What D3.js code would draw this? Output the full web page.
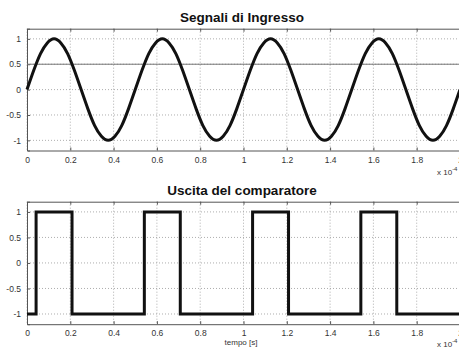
<!DOCTYPE html>
<html>
<head>
<meta charset="utf-8">
<script src="https://cdn.jsdelivr.net/npm/d3@7"></script>
<style>
  body { margin: 0; background: #fff; }
  svg { display: block; font-family: "Liberation Sans", Arial, sans-serif; }
  .tick text { fill: #333; font-size: 8.5px; }
  .title { font-weight: bold; font-size: 13.5px; fill: #111; }
</style>
</head>
<body>
<div id="chart"></div>
<script>
const w = 459,
      h = 349;

// time axis (units of 1e-4 s)
const xTicks = [0, 0.2, 0.4, 0.6, 0.8, 1, 1.2, 1.4, 1.6, 1.8, 2];
const yTicks = [-1, -0.5, 0, 0.5, 1];
const threshold = 0.5;

const sineT = [0, 0.03125, 0.0625, 0.09375, 0.125, 0.15625, 0.1875, 0.21875, 0.25, 0.28125, 0.3125, 0.34375, 0.375, 0.40625, 0.4375, 0.46875,
               0.5, 0.53125, 0.5625, 0.59375, 0.625, 0.65625, 0.6875, 0.71875, 0.75, 0.78125, 0.8125, 0.84375, 0.875, 0.90625, 0.9375, 0.96875,
               1, 1.03125, 1.0625, 1.09375, 1.125, 1.15625, 1.1875, 1.21875, 1.25, 1.28125, 1.3125, 1.34375, 1.375, 1.40625, 1.4375, 1.46875,
               1.5, 1.53125, 1.5625, 1.59375, 1.625, 1.65625, 1.6875, 1.71875, 1.75, 1.78125, 1.8125, 1.84375, 1.875, 1.90625, 1.9375, 1.96875, 2];
const sineV = [0, 0.38, 0.71, 0.92, 1, 0.92, 0.71, 0.38, 0, -0.38, -0.71, -0.92, -1, -0.92, -0.71, -0.38,
               0, 0.38, 0.71, 0.92, 1, 0.92, 0.71, 0.38, 0, -0.38, -0.71, -0.92, -1, -0.92, -0.71, -0.38,
               0, 0.38, 0.71, 0.92, 1, 0.92, 0.71, 0.38, 0, -0.38, -0.71, -0.92, -1, -0.92, -0.71, -0.38,
               0, 0.38, 0.71, 0.92, 1, 0.92, 0.71, 0.38, 0, -0.38, -0.71, -0.92, -1, -0.92, -0.71, -0.38, 0];

// comparator output: switching instants and levels
const compT = [0, 0.042, 0.208, 0.542, 0.708, 1.042, 1.208, 1.542, 1.708, 2];
const compV = [-1, 1, -1, 1, -1, 1, -1, 1, -1, -1];

const svg = d3.select('#chart').append('svg')
              .attr('width', w)
              .attr('height', h);

const x = d3.scaleLinear().domain([0, 2]).range([27, 460]);
const fmt = d => String(d);

const panel = (top, bottom, title, titleY) => {
    const y = d3.scaleLinear().domain([-1.2, 1.2]).range([bottom, top]);
    const g = svg.append('g');

    // grid
    g.selectAll('line.gx').data(xTicks).enter().append('line')
     .attr('x1', d => x(d)).attr('x2', d => x(d))
     .attr('y1', top).attr('y2', bottom)
     .attr('stroke', '#999').attr('stroke-width', 0.8).attr('stroke-dasharray', '1,2');
    g.selectAll('line.gy').data(yTicks).enter().append('line')
     .attr('x1', x(0)).attr('x2', x(2))
     .attr('y1', d => y(d)).attr('y2', d => y(d))
     .attr('stroke', '#999').attr('stroke-width', 0.8).attr('stroke-dasharray', '1,2');

    // axes
    g.append('g').attr('transform', `translate(0,${bottom})`)
     .call(d3.axisBottom(x).tickValues(xTicks).tickSize(-3).tickPadding(6).tickFormat(fmt));
    g.append('g').attr('transform', `translate(0,${top})`)
     .call(d3.axisTop(x).tickValues(xTicks).tickSize(-3).tickFormat(''));
    g.append('g').attr('transform', `translate(${x(0)},0)`)
     .call(d3.axisLeft(y).tickValues(yTicks).tickSize(-3).tickPadding(6).tickFormat(fmt));
    g.selectAll('.domain').attr('stroke', '#555');
    g.selectAll('.tick line').attr('stroke', '#555');

    svg.append('text').attr('class', 'title')
       .attr('x', 242).attr('y', titleY)
       .attr('text-anchor', 'middle').text(title);
    return y;
};

const y1 = panel(28.7, 150.5, 'Segnali di Ingresso', 22);
const y2 = panel(201.7, 324.2, 'Uscita del comparatore', 195);

// threshold line
svg.append('line')
   .attr('x1', x(0)).attr('x2', x(2))
   .attr('y1', y1(threshold)).attr('y2', y1(threshold))
   .attr('stroke', '#777').attr('stroke-width', 1);

const sineData = sineT.map((t, i) => [t, sineV[i]]);
svg.append('path')
   .datum(sineData)
   .attr('fill', 'none').attr('stroke', '#111').attr('stroke-width', 3)
   .attr('d', d3.line().x(d => x(d[0])).y(d => y1(d[1])).curve(d3.curveNatural));

const compData = compT.map((t, i) => [t, compV[i]]);
svg.append('path')
   .datum(compData)
   .attr('fill', 'none').attr('stroke', '#111').attr('stroke-width', 3)
   .attr('d', d3.line().x(d => x(d[0])).y(d => y2(d[1])).curve(d3.curveStepAfter));

// exponent labels and x label
const expLabel = (yy) => {
    const t = svg.append('text').attr('x', 437).attr('y', yy)
                 .attr('font-size', '8px').attr('fill', '#333');
    t.append('tspan').text('x 10');
    t.append('tspan').attr('dy', -4).attr('font-size', '6px').text('-4');
};
expLabel(175);
expLabel(347);

svg.append('text').attr('x', 241).attr('y', 345)
   .attr('text-anchor', 'middle').attr('font-size', '8px').attr('fill', '#333')
   .text('tempo [s]');
</script>
</body>
</html>
